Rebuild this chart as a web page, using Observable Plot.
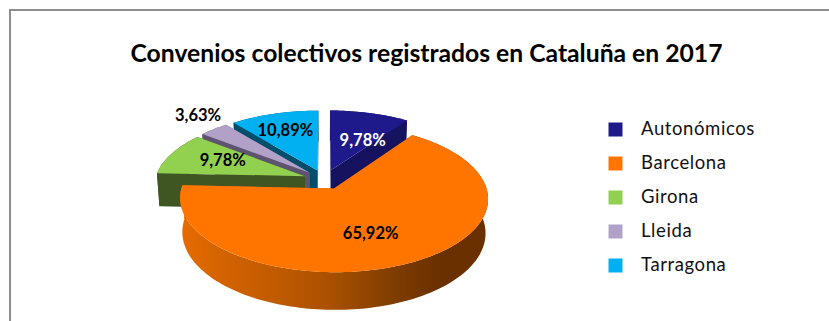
<!DOCTYPE html>
<html>
<head>
<meta charset="utf-8">
<script src="https://cdn.jsdelivr.net/npm/d3@7"></script>
<script src="https://cdn.jsdelivr.net/npm/@observablehq/plot@0.6"></script>
<style>
html,body{margin:0;padding:0;background:#fff;overflow:hidden}
#wrap{position:relative;width:829px;height:321px;overflow:hidden}
#frame{position:absolute;left:9px;top:9px;width:900px;height:400px;border:2px solid #8e8e8e}
#chart{position:absolute;left:0;top:0}
svg{background:transparent!important}
.legend-names text{letter-spacing:.6px}
</style>
</head>
<body>
<div id="wrap"><div id="frame"></div><div id="chart"></div></div>
<script>
// --- data ---
const titleText = "Convenios colectivos registrados en Cataluña en 2017";
const categories = ["Autonómicos", "Barcelona", "Girona", "Lleida", "Tarragona"];
const values = [9.78, 65.92, 9.78, 3.63, 10.89];

// --- style ---
const topColors  = ["#1f1a8c", "#ff7500", "#92d050", "#b1a0c7", "#00b0f0"];
const sideColors = ["#15125f", "url(#wallGradient)", "#3f5622", "#5e5470", "#004e6c"];
const labelColors = ["#ffffff", "#000000", "#000000", "#000000", "#000000"];
const labelRadius = [0.66, 0.76, 0.755, 1.41, 0.825];
const labelTurn   = [7, 4.6, 1.2, 2.9, -0.8];
const paintOrder  = [4, 3, 0, 2, 1];
const wallStops = [[178, "#e86c00"], [210, "#d86500"], [280, "#be5a00"], [330, "#a95000"], [400, "#7b3b00"], [440, "#6a3000"], [490, "#6a3000"]];

// --- view of the tilted, exploded pie ---
const view = {cx: 324, cy: 179, R: 150, H: 70, k: 0.133, m: 0.015, T: 34, explode: 0.14};
function project(gx, gy, z) {
  const s = 1 / (1 + view.k * gy + view.m * z);
  return {x: view.cx + view.R * gx * s, y: view.cy - view.H * gy * s + view.T * z * s};
}
const rad = Math.PI / 180;
const total = d3.sum(values);
let acc = 0;
const slices = values.map((v, i) => {
  const a0 = acc / total * 360; acc += v; const a1 = acc / total * 360;
  const mid = (a0 + a1) / 2;
  return {i, a0, a1, mid, ox: view.explode * Math.sin(mid * rad), oy: view.explode * Math.cos(mid * rad)};
});
const pt = (sl, r, a, z) => project(sl.ox + r * Math.sin(a * rad), sl.oy + r * Math.cos(a * rad), z);
const arcAngles = (a0, a1) => {
  const n = Math.max(2, Math.ceil((a1 - a0) / 1.5));
  return d3.range(n + 1).map(j => a0 + (a1 - a0) * j / n);
};

const polys = [];
let pid = 0;
function addPoly(points, color, stroke) {
  const id = pid++;
  points.forEach(p => polys.push({id, x: p.x, y: p.y, color, stroke}));
}
for (const idx of paintOrder) {
  const sl = slices[idx];
  const side = sideColors[idx];
  for (const a of [sl.a0, sl.a1]) {
    addPoly([pt(sl, 0, a, 0), pt(sl, 1, a, 0), pt(sl, 1, a, 1), pt(sl, 0, a, 1)], side);
  }
  const angs = arcAngles(sl.a0, sl.a1);
  addPoly([...angs.map(a => pt(sl, 1, a, 0)), ...angs.slice().reverse().map(a => pt(sl, 1, a, 1))], side);
  addPoly([pt(sl, 0, sl.a0, 0), ...angs.map(a => pt(sl, 1, a, 0))], topColors[idx]);
}

const labels = slices.map(sl => {
  const p = project(labelRadius[sl.i] * Math.sin((sl.mid + labelTurn[sl.i]) * rad),
                    labelRadius[sl.i] * Math.cos((sl.mid + labelTurn[sl.i]) * rad), 0);
  return {x: p.x, y: p.y, text: values[sl.i].toFixed(2).replace(".", ",") + "%", color: labelColors[sl.i]};
});

const legendX = 615, legendTextX = 640.5, legendTop = 129, legendStep = 34;
const legend = categories.map((name, i) => ({name, color: topColors[i], x: legendX, tx: legendTextX, y: legendTop + i * legendStep}));

function gradientDefs() {
  const defs = d3.create("svg:defs");
  const g = defs.append("linearGradient").attr("id", "wallGradient").attr("gradientUnits", "userSpaceOnUse")
    .attr("x1", wallStops[0][0]).attr("x2", wallStops[wallStops.length - 1][0]).attr("y1", 0).attr("y2", 0);
  const span = wallStops[wallStops.length - 1][0] - wallStops[0][0];
  for (const [pos, c] of wallStops) g.append("stop").attr("offset", (pos - wallStops[0][0]) / span).attr("stop-color", c);
  return defs.node();
}

const fontFamily = "Lato, 'Open Sans', sans-serif";
const chart = Plot.plot({
  width: 829, height: 321,
  margin: 0,
  style: {background: "transparent", fontFamily},
  x: {domain: [0, 829], range: [0, 829], axis: null},
  y: {domain: [0, 321], range: [0, 321], axis: null},
  color: {type: "identity"},
  marks: [
    gradientDefs,
    Plot.line(polys, {x: "x", y: "y", z: "id", fill: "color", stroke: "none", curve: "linear-closed"}),
    Plot.text(labels, {x: "x", y: "y", text: "text", fill: "color", fontSize: 16.5, fontWeight: 700, fontFamily}),
    Plot.dot(legend, {x: "x", y: "y", symbol: "square", r: 7.9, fill: "color", stroke: "none"}),
    Plot.text(legend, {x: "tx", y: "y", text: "name", textAnchor: "start", fontSize: 18.5, fill: "#111", fontFamily, className: "legend-names"}),
    Plot.text([titleText], {x: () => 426, y: () => 54, text: d => d, fontSize: 24.7, fontWeight: 700, fill: "#000", fontFamily})
  ]
});
document.getElementById("chart").appendChild(chart);
</script>
</body>
</html>
